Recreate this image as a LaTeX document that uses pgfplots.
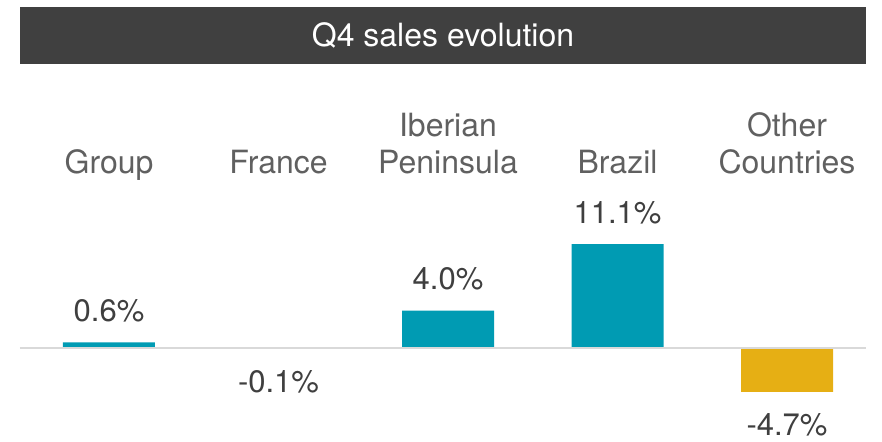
\documentclass[border=0pt]{standalone}
\usepackage{pgfplots}
\pgfplotsset{compat=1.18}
\usepackage{fontspec}
\setmainfont{TeX Gyre Heros}
\definecolor{barteal}{HTML}{009BB3}
\definecolor{bargold}{HTML}{E6AF14}
\definecolor{titlegray}{HTML}{404040}
\definecolor{labelgray}{HTML}{606060}
\definecolor{valuegray}{HTML}{3F3F3F}
\definecolor{zerogray}{HTML}{D9D9D9}
\begin{document}
\begin{tikzpicture}
\path[use as bounding box] (0pt,0pt) rectangle (882pt,-441pt);
% title band
\fill[titlegray] (20pt,-7pt) rectangle (866pt,-64pt);
\node[text=white, font=\fontsize{32}{38}\selectfont] at (443pt,-35.5pt) {Q4 sales evolution};
\begin{axis}[
  at={(20pt,-394.75pt)}, anchor=south west,
  scale only axis, width=846pt, height=209.6pt,
  xmin=-0.525, xmax=4.466, ymin=-5, ymax=17.42,
  clip=false, axis on top,
  axis line style={draw=none},
  ytick=\empty,
  xtick={0,1,2,3,4},
  xticklabels={Group, France, Iberian\\Peninsula, Brazil, Other\\Countries},
  xticklabel pos=upper,
  major tick length=0pt,
  xticklabel style={anchor=south, inner sep=0pt, align=center,
    font=\fontsize{32}{37.5}\selectfont\strut, text=labelgray},
  extra y ticks={0}, extra y tick labels={},
  extra y tick style={grid=major, major grid style={draw=zerogray, line width=2pt}},
  ybar, bar width=92pt, bar shift=0pt,
  point meta=explicit symbolic,
]
\addplot[draw=none, fill=barteal, nodes near coords,
  nodes near coords style={anchor=south, inner sep=0pt, yshift=20pt,
    font=\fontsize{31}{37}\selectfont, text=valuegray}]
  coordinates {(0,0.6)[0.6\%] (2,4.0)[4.0\%] (3,11.1)[11.1\%]};
\addplot[draw=none, fill=bargold, nodes near coords,
  nodes near coords style={anchor=north, inner sep=0pt, yshift=-21pt,
    font=\fontsize{31}{37}\selectfont, text=valuegray}]
  coordinates {(1,-0.1)[-0.1\%] (4,-4.7)[-4.7\%]};
\end{axis}
\end{tikzpicture}
\end{document}
